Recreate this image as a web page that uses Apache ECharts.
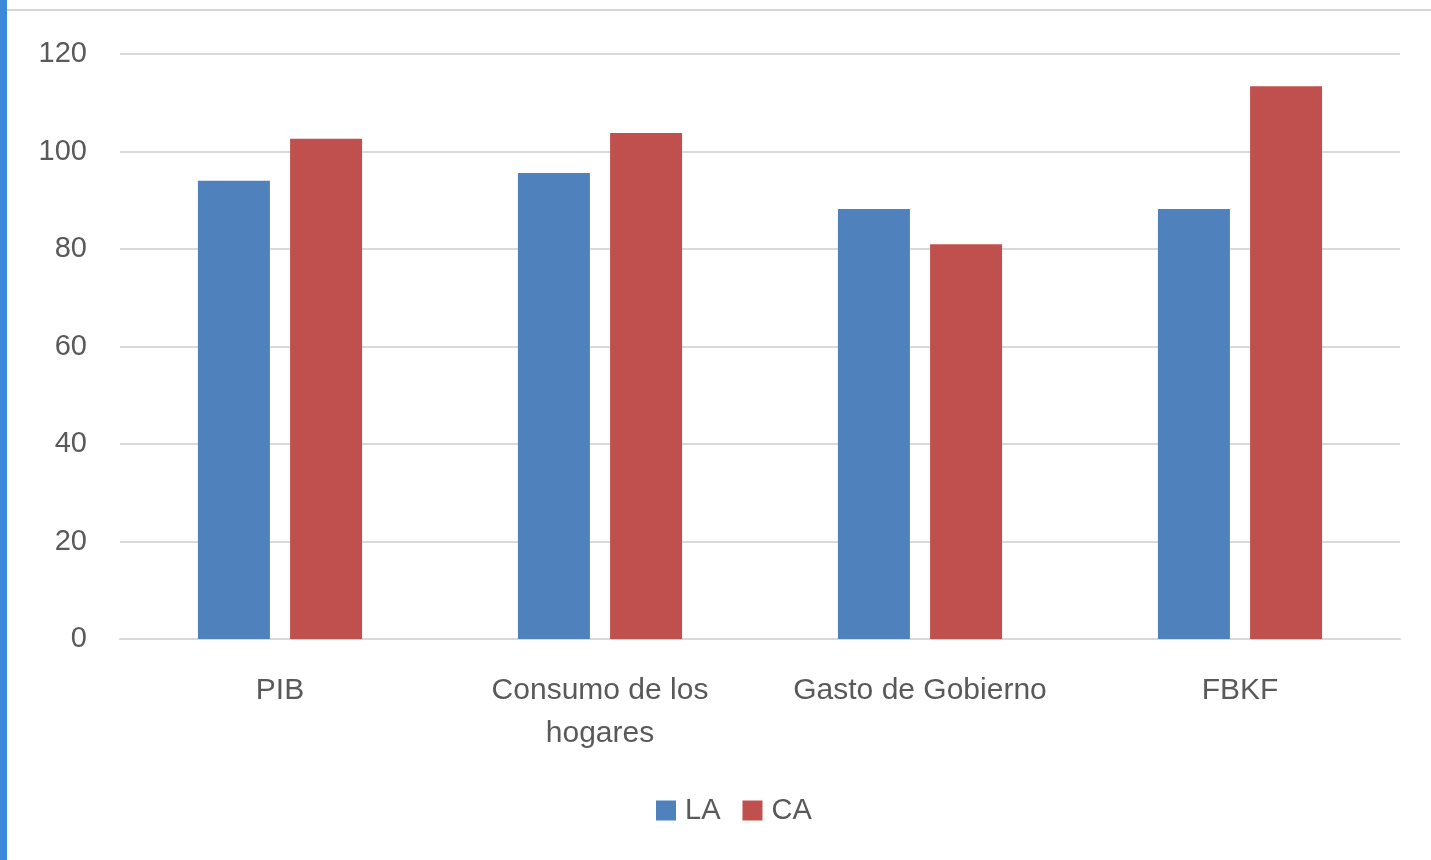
<!DOCTYPE html>
<html><head><meta charset="utf-8">
<script src="https://cdn.jsdelivr.net/npm/echarts@6/dist/echarts.min.js"></script>
<style>html,body{margin:0;padding:0;background:#fff}#c{width:1431px;height:860px}</style>
</head><body><div id="c"></div>
<script>
const categories = ['PIB', 'Consumo de los\nhogares', 'Gasto de Gobierno', 'FBKF'];
const seriesNames = ['LA', 'CA'];
const valuesLA = [94, 95.6, 88.2, 88.2];
const valuesCA = [102.6, 103.8, 81, 113.4];
const yTicks = { min: 0, max: 120, interval: 20 };

const chart = echarts.init(document.getElementById('c'));
const font = 'Liberation Sans';
chart.setOption({
  backgroundColor: '#ffffff',
  animation: false,
  graphic: [
    { type: 'rect', shape: { x: 0, y: 0, width: 7, height: 860 }, style: { fill: '#3c89dc' } },
    { type: 'line', shape: { x1: 7, y1: 10, x2: 1431, y2: 10 }, style: { stroke: '#d6d6d6', lineWidth: 2 } }
  ],
  grid: { left: 120, right: 31, top: 54, bottom: 221, containLabel: false },
  legend: {
    data: seriesNames, bottom: 30, left: 651, itemWidth: 20, itemHeight: 20, itemGap: 22,
    icon: 'rect',
    textStyle: { fontFamily: font, fontSize: 29, color: '#595959', padding: [0, 0, 0, 4] }
  },
  xAxis: {
    type: 'category', data: categories,
    axisLine: { show: true, lineStyle: { color: '#d9d9d9', width: 2 } },
    axisTick: { show: false },
    axisLabel: { fontFamily: font, fontSize: 30, color: '#595959', margin: 30, lineHeight: 43, interval: 0 }
  },
  yAxis: {
    type: 'value', min: yTicks.min, max: yTicks.max, interval: yTicks.interval,
    axisLine: { show: false }, axisTick: { show: false },
    splitLine: { lineStyle: { color: '#d9d9d9', width: 2 } },
    axisLabel: { fontFamily: font, fontSize: 29, color: '#595959', margin: 33 }
  },
  series: [
    { name: 'LA', type: 'bar', data: valuesLA, barWidth: 72, barGap: '28%', itemStyle: { color: '#4f81bd' } },
    { name: 'CA', type: 'bar', data: valuesCA, barWidth: 72, itemStyle: { color: '#c0504d' } }
  ]
});
</script></body></html>
